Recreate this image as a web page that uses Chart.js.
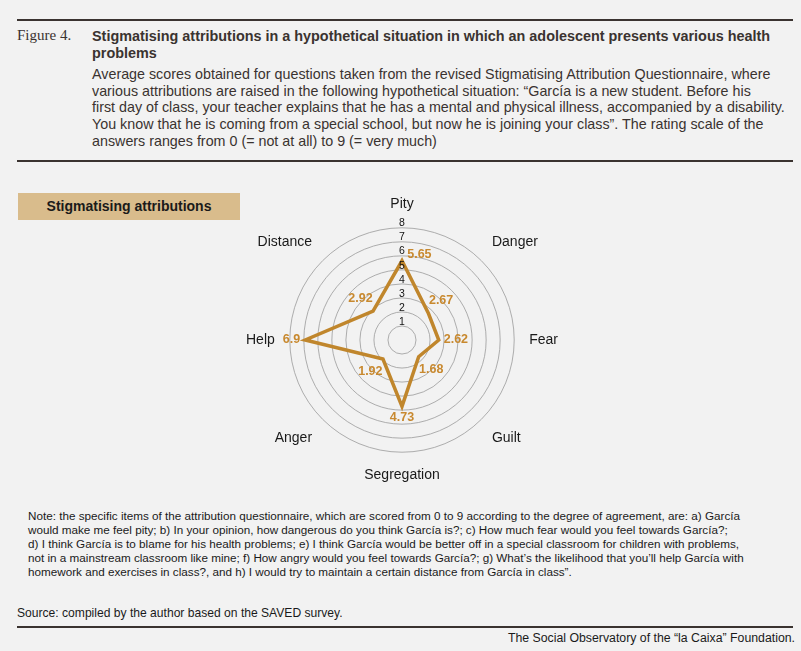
<!DOCTYPE html>
<html>
<head>
<meta charset="utf-8">
<script src="https://cdn.jsdelivr.net/npm/chart.js@4.4.1/dist/chart.umd.min.js"></script>
<style>
  html, body { margin: 0; padding: 0; background: #f2f2f2; }
  body { width: 801px; height: 651px; position: relative; overflow: hidden;
         font-family: "Liberation Sans", Arial, sans-serif; color: #3a3330; }
  .rule { position: absolute; left: 17px; width: 776px; height: 2px; background: #3a3330; }
  .fig { position: absolute; left: 17px; top: 27px; font-family: "Liberation Serif", "DejaVu Serif", serif;
         font-size: 15px; }
  .title { position: absolute; left: 92px; top: 28px; font-size: 14.4px; font-weight: bold;
           line-height: 16.5px; white-space: nowrap; }
  .desc { position: absolute; left: 92px; top: 66px; font-size: 14.3px; line-height: 16.7px; white-space: nowrap; }
  .legend { position: absolute; left: 18px; top: 193px; width: 222px; height: 27px; background: #d9bc8c;
            font-size: 14px; font-weight: bold; color: #1a1a1a; text-align: center; line-height: 27px; }
  #wrap { position: absolute; left: 246px; top: 194px; width: 312px; height: 293px; }
  .note { position: absolute; left: 28px; top: 509px; font-size: 11.7px; line-height: 14px; white-space: nowrap; color: #1a1a1a; }
  .source { position: absolute; left: 17px; top: 606px; font-size: 12.1px; white-space: nowrap; color: #1a1a1a; }
  .footer { position: absolute; right: 6px; top: 631px; font-size: 12.3px; white-space: nowrap; color: #1a1a1a; }
</style>
</head>
<body>
<div class="rule" style="top:19px"></div>
<div class="fig">Figure 4.</div>
<div class="title">Stigmatising attributions in a hypothetical situation in which an adolescent presents various health<br>problems</div>
<div class="desc">Average scores obtained for questions taken from the revised Stigmatising Attribution Questionnaire, where<br>various attributions are raised in the following hypothetical situation: “García is a new student. Before his<br>first day of class, your teacher explains that he has a mental and physical illness, accompanied by a disability.<br>You know that he is coming from a special school, but now he is joining your class”. The rating scale of the<br>answers ranges from 0 (= not at all) to 9 (= very much)</div>
<div class="rule" style="top:160px"></div>
<div class="legend">Stigmatising attributions</div>
<div id="wrap"><canvas id="myChart"></canvas></div>
<div class="note">Note: the specific items of the attribution questionnaire, which are scored from 0 to 9 according to the degree of agreement, are: a) García<br>would make me feel pity; b) In your opinion, how dangerous do you think García is?; c) How much fear would you feel towards García?;<br>d) I think García is to blame for his health problems; e) I think García would be better off in a special classroom for children with problems,<br>not in a mainstream classroom like mine; f) How angry would you feel towards García?; g) What’s the likelihood that you’ll help García with<br>homework and exercises in class?, and h) I would try to maintain a certain distance from García in class”.</div>
<div class="source">Source: compiled by the author based on the SAVED survey.</div>
<div class="rule" style="top:626px"></div>
<div class="footer">The Social Observatory of the “la Caixa” Foundation.</div>

<script>
  const labels = ['Pity', 'Danger', 'Fear', 'Guilt', 'Segregation', 'Anger', 'Help', 'Distance'];
  const valores = [5.65, 2.67, 2.62, 1.68, 4.73, 1.92, 6.9, 2.92];
  const ticks = [1, 2, 3, 4, 5, 6, 7, 8];

  // tick numbers sit just above each ring
  const tickLabels = {
    id: 'tickLabels',
    afterDraw(chart) {
      const scale = chart.scales.r;
      const ctx = chart.ctx;
      ctx.save();
      ctx.font = '10.5px "Liberation Sans", Arial, sans-serif';
      ctx.fillStyle = '#111';
      ctx.textAlign = 'center';
      ctx.textBaseline = 'bottom';
      ticks.forEach(v => {
        const d = scale.getDistanceFromCenterForValue(v);
        ctx.fillText(String(v), scale.xCenter, scale.yCenter - d + 1);
      });
      ctx.restore();
    }
  };

  // value labels pushed outward from each point
  const valueLabels = {
    id: 'valueLabels',
    afterDatasetsDraw(chart) {
      const scale = chart.scales.r;
      const meta = chart.getDatasetMeta(0);
      const ctx = chart.ctx;
      ctx.save();
      ctx.font = 'bold 12.5px "Liberation Sans", Arial, sans-serif';
      ctx.fillStyle = '#c8892f';
      ctx.textAlign = 'center';
      ctx.textBaseline = 'middle';
      meta.data.forEach((pt, i) => {
        let ang = Math.atan2(pt.y - scale.yCenter, pt.x - scale.xCenter);
        if (i === 0) ang = -20 * Math.PI / 180;
        const dx = Math.cos(ang), dy = Math.sin(ang);
        const txt = String(valores[i]);
        const w = ctx.measureText(txt).width;
        const off = 5 + Math.abs(dx) * w / 2 + Math.abs(dy) * 6;
        ctx.fillText(txt, pt.x + dx * off, pt.y + dy * off);
      });
      ctx.restore();
    }
  };

  const data = {
    labels: labels,
    datasets: [{
      data: valores,
      borderColor: '#c0862c',
      borderWidth: 3.5,
      fill: false,
      pointRadius: 0,
      tension: 0
    }]
  };

  const config = {
    type: 'radar',
    data: data,
    options: {
      responsive: true,
      maintainAspectRatio: false,
      animation: false,
      layout: { padding: 0 },
      plugins: { legend: { display: false }, tooltip: { enabled: false } },
      scales: {
        r: {
          min: 0,
          max: 8,
          ticks: { display: false, stepSize: 1 },
          grid: { circular: true, color: '#9a9a9a', lineWidth: 0.8 },
          angleLines: { display: false },
          pointLabels: {
            padding: 15,
            color: '#1a1a1a',
            font: { family: '"Liberation Sans", Arial, sans-serif', size: 14 }
          }
        }
      }
    },
    plugins: [tickLabels, valueLabels]
  };

  const myChart = new Chart(document.getElementById('myChart'), config);
</script>
</body>
</html>
